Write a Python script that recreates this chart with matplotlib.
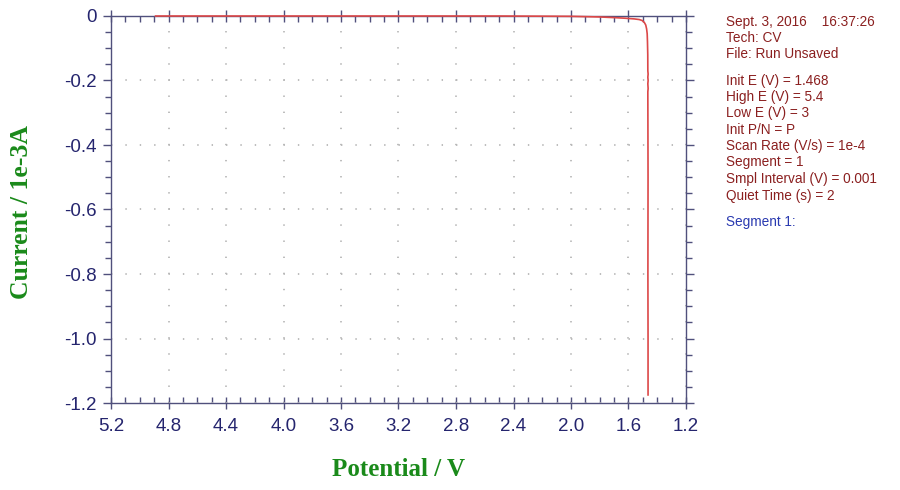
import numpy as np
import matplotlib
matplotlib.use("Agg")
import matplotlib.pyplot as plt
from matplotlib.ticker import MultipleLocator, FuncFormatter

# CV scan, potential (V) vs current (1e-3 A)
potential = [1.464, 1.464, 1.465, 1.464, 1.4655, 1.4635, 1.4655, 1.4635, 1.4655, 1.4635,
             1.4655, 1.466, 1.468, 1.470, 1.474, 1.480, 1.490, 1.505, 1.525, 1.56,
             1.62, 1.70, 1.80, 2.0, 2.5, 3.0, 3.5, 4.0, 4.5, 4.89]
current = [-1.175, -1.0, -0.8, -0.5, -0.235, -0.225, -0.21, -0.2, -0.19, -0.18,
           -0.17, -0.12, -0.08, -0.055, -0.04, -0.028, -0.02, -0.014, -0.011, -0.009,
           -0.007, -0.005, -0.003, -0.001, 0.0, 0.0, 0.0, 0.0, 0.0, 0.0]

x_ticks = [5.2, 4.8, 4.4, 4.0, 3.6, 3.2, 2.8, 2.4, 2.0, 1.6, 1.2]
y_ticks = [0, -0.2, -0.4, -0.6, -0.8, -1.0, -1.2]

info_lines = [
    "Sept. 3, 2016    16:37:26",
    "Tech: CV",
    "File: Run Unsaved",
    "Init E (V) = 1.468",
    "High E (V) = 5.4",
    "Low E (V) = 3",
    "Init P/N = P",
    "Scan Rate (V/s) = 1e-4",
    "Segment = 1",
    "Smpl Interval (V) = 0.001",
    "Quiet Time (s) = 2",
]
info_y = [22, 38, 54, 81, 97, 113, 130, 146, 162, 179, 196]

spine_col = "#50507c"
tick_col = "#25256e"
label_col = "#1a8a1a"
info_col = "#8b2020"

plt.rcParams["lines.scale_dashes"] = False

fig = plt.figure(figsize=(9, 4.9), dpi=100)
ax = fig.add_axes([111 / 900, 1 - 403 / 490, 575 / 900, 387 / 490])

ax.plot(potential, current, color="#dc4848", lw=1.2, zorder=3, clip_on=False)

ax.set_xlim(5.2, 1.2)
ax.set_ylim(-1.2, 0)
ax.xaxis.set_minor_locator(MultipleLocator(0.1))
ax.yaxis.set_minor_locator(MultipleLocator(0.05))
ax.set_xticks(x_ticks)
ax.set_yticks(y_ticks)
ax.xaxis.set_major_formatter(FuncFormatter(lambda v, p: f"{v:.1f}"))
ax.yaxis.set_major_formatter(FuncFormatter(lambda v, p: "0" if abs(v) < 1e-9 else f"{v:.1f}"))

# dotted grid, one dot per minor tick (0.1 V = 14.4 px, 0.05 mA = 16.1 px)
ax.xaxis.grid(True, which="major", color="#b8b8b8", lw=1.3, linestyle=(0, (1, 10.6)))
ax.yaxis.grid(True, which="major", color="#b8b8b8", lw=1.3, linestyle=(0, (1, 9.35)))
for s in ax.spines.values():
    s.set_color(spine_col)
    s.set_linewidth(1.0)

ax.tick_params(axis="x", which="major", direction="inout", length=9, width=1,
               color=spine_col, labelcolor=tick_col, labelsize=13.5, pad=6, top=True)
ax.tick_params(axis="x", which="minor", direction="in", length=4, width=1,
               color=spine_col, top=True)
ax.tick_params(axis="y", which="major", direction="out", length=6, width=1,
               color=spine_col, labelcolor=tick_col, labelsize=13.5, pad=4, right=True)
ax.tick_params(axis="y", which="minor", direction="out", length=4, width=1,
               color=spine_col, right=True)
for lab in ax.get_xticklabels() + ax.get_yticklabels():
    lab.set_family("Liberation Sans")

fig.text(398 / 900, 1 - 469 / 490, "Potential / V", ha="center", va="center",
         family="Liberation Serif", weight="bold", size=18, color=label_col)
fig.text(22 / 900, 1 - 212 / 490, "Current / 1e-3A", ha="center", va="center",
         rotation=90, family="Liberation Serif", weight="bold", size=18.5, color=label_col)

for line, yy in zip(info_lines, info_y):
    fig.text(726 / 900, 1 - yy / 490, line, ha="left", va="center",
             family="Liberation Sans", size=9.8, color=info_col)
fig.text(726 / 900, 1 - 222 / 490, "Segment 1:", ha="left", va="center",
         family="Liberation Sans", size=9.8, color="#2a3ab0")

fig.savefig("out.png", dpi=100)
